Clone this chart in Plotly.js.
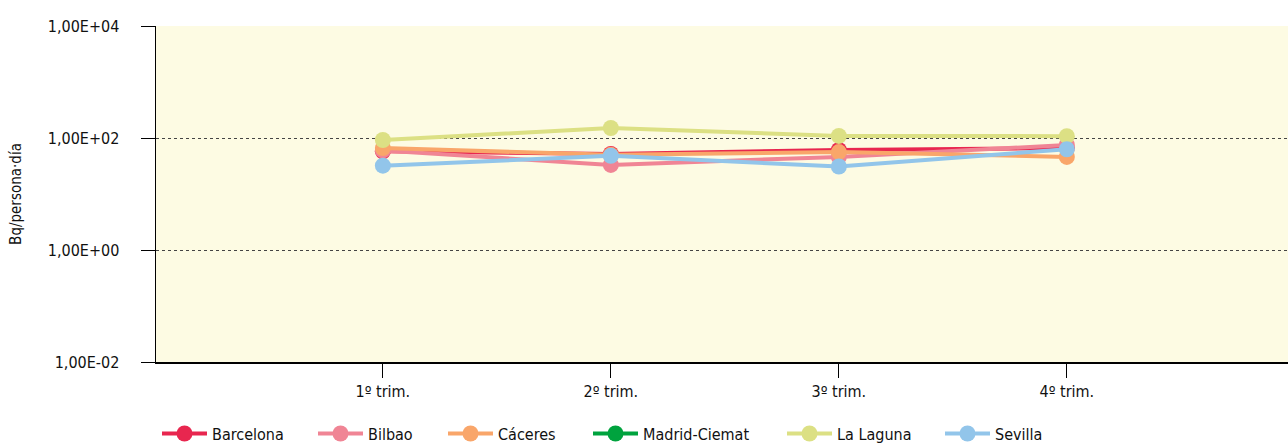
<!DOCTYPE html>
<html><head><meta charset="utf-8">
<script src="https://cdn.plot.ly/plotly-3.0.1.min.js"></script>
<style>html,body{margin:0;padding:0;background:#fff}#chart{width:1288px;height:447px}</style>
</head><body><div id="chart"></div>
<script>
const categories = ["1º trim.", "2º trim.", "3º trim.", "4º trim."];
const seriesNames = ["Barcelona", "Bilbao", "Cáceres", "Madrid-Ciemat", "La Laguna", "Sevilla"];
const barcelona = [58, 52, 61, 66];
const bilbao = [60, 33, 46, 75];
const caceres = [66, 50, 56, 46];
const madridCiemat = [null, null, null, null];
const laLaguna = [92, 151, 109, 108];
const sevilla = [32, 48, 31, 63];
const colors = ["#E8264F", "#F08595", "#F9A66A", "#00A33E", "#DCE084", "#92C5EA"];
const yTickVals = [0.01, 1, 100, 10000];
const yTickText = ["1,00E-02", "1,00E+00", "1,00E+02", "1,00E+04"];

const allValues = [barcelona, bilbao, caceres, madridCiemat, laLaguna, sevilla];
const FONT = '"DejaVu Sans Condensed", "Liberation Sans Narrow", sans-serif';
const legendTextX = [212, 368, 498, 643, 837, 995];

const traces = allValues.map((vals, i) => ({
  type: 'scatter', mode: 'lines+markers', name: seriesNames[i],
  x: categories, y: vals,
  line: {color: colors[i], width: 4},
  marker: {color: colors[i], size: 16},
  legend: i === 0 ? 'legend' : 'legend' + (i + 1)
}));

const layout = {
  width: 1288, height: 447,
  margin: {l: 156, r: 0, t: 26, b: 85},
  paper_bgcolor: '#ffffff', plot_bgcolor: '#FDFBE3',
  font: {family: FONT, size: 16, color: '#111'},
  showlegend: true,
  xaxis: {type: 'category', range: [-0.995, 3.97], showline: true, linecolor: '#000', linewidth: 1.5,
          ticks: 'outside', ticklen: 14, tickcolor: '#000', tickwidth: 1, showgrid: false,
          tickfont: {family: FONT, size: 16, color: '#111'}, fixedrange: true},
  yaxis: {type: 'log', range: [-2, 4], tickvals: yTickVals, ticktext: yTickText,
          showline: true, linecolor: '#000', linewidth: 1.5, ticks: 'outside', ticklen: 14,
          tickcolor: '#000', tickwidth: 1, ticklabelstandoff: 18,
          showgrid: true, gridcolor: '#444', griddash: 'dot', gridwidth: 1,
          tickfont: {family: FONT, size: 16, color: '#111'},
          title: {text: 'Bq/persona·día', font: {family: FONT, size: 15, color: '#111'}, standoff: 22},
          fixedrange: true}
};
legendTextX.forEach((tx, i) => {
  const key = i === 0 ? 'legend' : 'legend' + (i + 1);
  layout[key] = {orientation: 'h', xref: 'container', yref: 'container',
    x: (tx - 55) / 1288, y: 0.03, xanchor: 'left', yanchor: 'middle', itemwidth: 45,
    font: {family: FONT, size: 16, color: '#111'}, bgcolor: 'rgba(0,0,0,0)'};
});
Plotly.newPlot('chart', traces, layout, {displayModeBar: false, staticPlot: true});
</script></body></html>
